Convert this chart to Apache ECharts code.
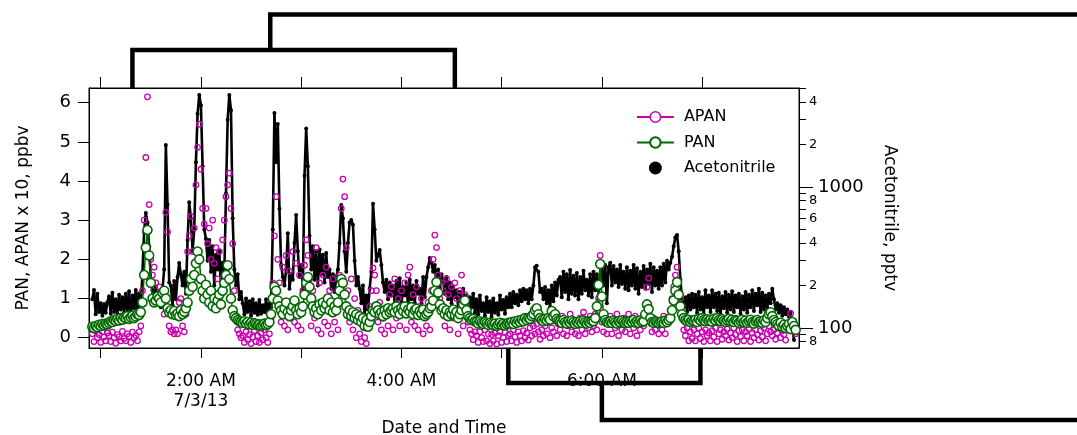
<!DOCTYPE html>
<html>
<head>
<meta charset="utf-8">
<script src="https://cdn.jsdelivr.net/npm/echarts@6/dist/echarts.min.js"></script>
<style>
  html, body { margin: 0; padding: 0; background: #fff; }
  #chart { width: 1077px; height: 435px; }
</style>
</head>
<body>
<div id="chart"></div>
<script>
// One reading per minute, minutes after midnight on 7/3/13, first reading at 0:55
const START_MIN = 55;
const DATE_LABEL = '7/3/13';

// Acetonitrile, pptv (right, log axis)
const acetonitrile = [
  160, 186, 125, 175, 130, 150, 122, 148, 128, 152,
  168, 126, 178, 130, 160, 124, 172, 135, 165, 128,
  175, 130, 182, 126, 170, 138, 186, 130, 176, 140,
  250, 480, 655, 560, 380, 220, 185, 150, 195, 160,
  175, 140, 190, 260, 1985, 750, 210, 200, 145, 215,
  160, 230, 289, 240, 200, 250, 175, 420, 780, 600,
  350, 500, 1500, 3300, 4500, 3800, 1400, 500, 430, 300,
  420, 250, 380, 200, 330, 260, 350, 190, 290, 240,
  900, 3000, 4500, 3500, 600, 260, 200, 240, 160, 180,
  150, 125, 162, 130, 155, 122, 160, 128, 150, 124,
  158, 126, 145, 130, 160, 125, 150, 140, 500, 3350,
  1500, 2800, 700, 280, 230, 200, 260, 470, 190, 240,
  220, 400, 634, 350, 230, 280, 190, 1200, 2600, 1400,
  450, 260, 380, 220, 350, 200, 360, 240, 330, 210,
  340, 230, 260, 190, 240, 180, 230, 260, 400, 745,
  600, 350, 250, 400, 560, 583, 540, 300, 200, 230,
  190, 150, 200, 125, 170, 135, 190, 250, 760, 500,
  300, 330, 357, 280, 210, 180, 220, 160, 210, 170,
  200, 150, 215, 160, 225, 145, 195, 170, 210, 140,
  220, 160, 200, 150, 215, 175, 190, 150, 230, 165,
  230, 270, 314, 290, 250, 280, 200, 260, 190, 240,
  220, 175, 230, 160, 210, 150, 195, 165, 185, 140,
  180, 135, 190, 150, 170, 130, 165, 140, 175, 128,
  160, 125, 170, 132, 150, 122, 165, 130, 155, 120,
  162, 128, 150, 124, 170, 135, 158, 126, 165, 140,
  175, 140, 180, 150, 172, 145, 185, 155, 190, 160,
  185, 150, 190, 160, 200, 270, 276, 250, 180, 190,
  160, 195, 150, 185, 140, 200, 155, 210, 170, 220,
  230, 165, 250, 180, 240, 160, 258, 175, 235, 170,
  245, 160, 230, 175, 255, 185, 220, 170, 240, 165,
  250, 185, 240, 170, 230, 265, 200, 280, 150, 270,
  290, 200, 275, 210, 260, 195, 280, 205, 250, 190,
  270, 185, 255, 200, 280, 190, 265, 175, 250, 195,
  275, 190, 260, 205, 285, 180, 270, 200, 255, 190,
  270, 200, 285, 210, 300, 260, 290, 320, 380, 440,
  457, 350, 220, 160, 140, 165, 130, 170, 135, 175,
  140, 172, 128, 180, 135, 165, 125, 185, 140, 170,
  130, 185, 140, 175, 132, 178, 126, 168, 138, 180,
  128, 172, 135, 182, 130, 170, 140, 175, 126, 168,
  135, 180, 128, 172, 140, 185, 132, 175, 145, 190,
  130, 178, 135, 170, 140, 175, 150, 190, 160, 135,
  150, 128, 145, 122, 140, 125, 135, 120, 130, 100,
  82, null
];

// PAN, ppbv (left axis)
const pan = [
  0.28, 0.25, 0.30, 0.27, 0.33, 0.30, 0.35, 0.32, 0.36, 0.34,
  0.38, 0.42, 0.40, 0.45, 0.43, 0.48, 0.44, 0.50, 0.46, 0.52,
  0.50, 0.55, 0.48, 0.52, 0.56, 0.50, 0.54, 0.60, 0.58, 0.65,
  0.90, 1.60, 2.30, 2.75, 2.10, 1.40, 1.00, 0.90, 0.95, 1.05,
  1.00, 0.90, 1.15, 1.20, 1.00, 0.75, 0.65, 0.70, 0.60, 0.68,
  0.58, 0.62, 0.55, 0.70, 0.60, 0.66, 0.75, 0.90, 1.20, 1.50,
  1.30, 1.60, 1.90, 2.20, 2.00, 1.50, 1.20, 1.00, 1.35, 1.10,
  0.90, 1.20, 0.80, 1.00, 0.75, 0.95, 1.10, 0.85, 1.20, 1.40,
  1.60, 1.85, 1.50, 1.00, 0.70, 0.55, 0.50, 0.45, 0.42, 0.40,
  0.38, 0.42, 0.36, 0.40, 0.34, 0.38, 0.33, 0.37, 0.35, 0.32,
  0.34, 0.30, 0.33, 0.36, 0.32, 0.35, 0.40, 0.60, 1.00, 1.30,
  1.20, 0.95, 0.80, 0.70, 0.60, 0.75, 0.90, 0.65, 0.55, 0.70,
  0.80, 0.95, 0.70, 0.60, 0.75, 0.65, 0.80, 1.10, 1.40, 1.55,
  1.30, 1.00, 0.80, 0.65, 0.75, 0.60, 0.85, 0.70, 0.90, 0.75,
  0.85, 1.00, 0.70, 0.90, 0.65, 0.80, 0.70, 0.90, 1.20, 1.50,
  1.40, 1.10, 0.80, 0.60, 0.70, 0.55, 0.65, 0.50, 0.60, 0.45,
  0.55, 0.40, 0.50, 0.30, 0.45, 0.28, 0.40, 0.55, 0.70, 0.65,
  0.80, 0.70, 0.60, 0.65, 0.55, 0.70, 0.60, 0.75, 0.65, 0.70,
  0.75, 0.65, 0.80, 0.70, 0.60, 0.75, 0.68, 0.80, 0.62, 0.72,
  0.66, 0.78, 0.60, 0.70, 0.74, 0.58, 0.68, 0.62, 0.72, 0.55,
  0.60, 0.65, 0.75, 0.80, 0.95, 1.20, 1.42, 1.15, 0.85, 0.70,
  0.75, 0.60, 0.70, 0.55, 0.65, 0.60, 0.72, 0.58, 0.66, 0.50,
  0.60, 0.70, 0.85, 0.95, 0.70, 0.55, 0.50, 0.45, 0.48, 0.42,
  0.40, 0.36, 0.42, 0.38, 0.35, 0.40, 0.37, 0.33, 0.38, 0.35,
  0.32, 0.36, 0.30, 0.34, 0.38, 0.33, 0.36, 0.31, 0.35, 0.38,
  0.36, 0.40, 0.35, 0.42, 0.38, 0.44, 0.40, 0.46, 0.42, 0.50,
  0.45, 0.50, 0.48, 0.55, 0.60, 0.70, 0.75, 0.60, 0.50, 0.45,
  0.42, 0.48, 0.44, 0.50, 0.46, 0.68, 0.55, 0.60, 0.48, 0.44,
  0.42, 0.38, 0.45, 0.40, 0.36, 0.42, 0.38, 0.44, 0.40, 0.35,
  0.40, 0.37, 0.42, 0.38, 0.44, 0.40, 0.36, 0.41, 0.38, 0.43,
  0.42, 0.50, 0.80, 1.35, 1.88, 1.05, 0.60, 0.45, 0.40, 0.38,
  0.42, 0.38, 0.44, 0.40, 0.36, 0.42, 0.39, 0.44, 0.40, 0.37,
  0.41, 0.38, 0.43, 0.40, 0.45, 0.39, 0.42, 0.38, 0.44, 0.40,
  0.42, 0.60, 0.85, 0.73, 0.50, 0.40, 0.38, 0.42, 0.40, 0.37,
  0.40, 0.42, 0.38, 0.44, 0.40, 0.45, 0.50, 0.70, 0.95, 1.20,
  1.42, 1.10, 0.80, 0.60, 0.50, 0.45, 0.42, 0.46, 0.40, 0.44,
  0.42, 0.46, 0.40, 0.48, 0.44, 0.50, 0.45, 0.42, 0.47, 0.43,
  0.46, 0.41, 0.48, 0.44, 0.50, 0.45, 0.42, 0.47, 0.43, 0.40,
  0.44, 0.48, 0.42, 0.46, 0.40, 0.45, 0.43, 0.38, 0.42, 0.46,
  0.40, 0.44, 0.38, 0.42, 0.46, 0.40, 0.36, 0.42, 0.45, 0.40,
  0.42, 0.38, 0.44, 0.40, 0.50, 0.60, 0.65, 0.55, 0.45, 0.40,
  0.35, 0.30, 0.38, 0.28, 0.33, 0.25, 0.30, 0.35, 0.22, 0.40,
  0.30, 0.20
];

// APAN x 10, ppbv (left axis)
const apanX10 = [
  0.10, -0.10, 0.18, 0.00, 0.08, -0.12, 0.15, 0.02, -0.08, 0.12,
  0.05, -0.10, 0.14, 0.00, -0.14, 0.08, 0.02, -0.08, 0.16, -0.02,
  -0.08, 0.10, 0.03, -0.12, 0.14, 0.00, 0.06, -0.08, 0.15, 0.30,
  1.20, 3.00, 4.60, 6.15, 3.40, 2.00, 1.60, 1.80, 1.40, 1.10,
  1.30, 0.90, 1.00, 0.60, 3.20, 2.70, 0.30, 0.15, 0.20, 0.10,
  0.20, 0.10, 0.90, 1.00, 0.30, 0.15, 0.60, 2.20, 2.60, 3.10,
  2.20, 2.80, 3.90, 4.86, 5.45, 4.30, 3.30, 2.90, 3.30, 2.40,
  2.80, 2.00, 3.00, 1.90, 2.30, 1.50, 2.20, 1.20, 2.50, 3.00,
  3.60, 3.90, 4.20, 3.30, 2.40, 1.20, 0.50, 0.20, 0.10, 0.00,
  0.05, -0.12, 0.15, -0.05, 0.08, -0.15, 0.02, 0.18, -0.10, 0.05,
  -0.12, 0.12, -0.05, 0.20, 0.00, -0.12, 0.10, 0.50, 1.40, 2.60,
  3.60, 2.00, 1.40, 0.40, 1.80, 0.30, 2.10, 0.20, 1.70, 0.50,
  2.20, 0.40, 1.90, 0.30, 1.60, 0.20, 1.20, 1.85, 2.50, 2.10,
  1.50, 0.30, 1.20, 0.50, 2.30, 0.20, 1.40, 0.10, 1.60, 0.40,
  1.80, 0.30, 1.20, 0.10, 1.50, 0.40, 0.90, 0.20, 1.60, 3.30,
  4.05, 3.60, 2.30, 1.20, 0.40, 1.50, 0.20, 1.00, 0.00, 0.70,
  0.10, -0.10, 0.50, 0.00, -0.15, 0.30, 0.80, 1.20, 1.78, 1.60,
  1.20, 0.40, 0.90, 0.20, 0.50, 0.10, 0.70, 0.30, 1.10, 1.30,
  0.20, 1.50, 0.50, 1.00, 0.30, 1.20, 0.60, 1.40, 0.20, 1.60,
  1.80, 0.40, 1.10, 0.30, 1.30, 0.20, 0.80, 1.00, 0.10, 0.60,
  0.30, 0.90, 0.20, 1.20, 2.00, 2.62, 2.30, 1.60, 1.00, 1.40,
  1.20, 0.30, 1.50, 1.10, 0.20, 1.30, 0.50, 1.40, 1.00, 0.10,
  1.20, 1.60, 0.30, 1.10, 0.80, 0.40, 0.20, 0.10, -0.05, 0.15,
  0.05, -0.12, 0.15, 0.00, -0.10, 0.20, -0.08, 0.10, -0.15, 0.08,
  -0.08, 0.12, -0.16, 0.05, 0.15, -0.12, 0.00, 0.14, -0.10, 0.06,
  0.10, -0.08, 0.20, 0.02, -0.12, 0.15, 0.05, -0.08, 0.18, 0.00,
  0.12, -0.06, 0.25, 0.05, 0.30, 0.10, 0.35, 0.15, -0.04, 0.20,
  0.05, 0.30, 0.10, 0.45, 0.00, 0.25, 0.15, 0.50, 0.05, 0.35,
  0.20, 0.55, 0.10, 0.40, 0.05, 0.30, 0.60, 0.15, 0.45, 0.10,
  0.35, 0.05, 0.50, 0.20, 0.65, 0.10, 0.40, 0.25, 0.55, 0.15,
  0.30, 0.60, 0.20, 1.00, 2.10, 0.40, 0.15, 0.50, 0.10, 0.35,
  0.55, 0.10, 0.40, 0.25, 0.60, 0.05, 0.45, 0.20, 0.50, 0.15,
  0.35, 0.60, 0.10, 0.45, 0.25, 0.55, 0.05, 0.40, 0.20, 0.50,
  0.30, 0.60, 1.29, 1.52, 0.40, 0.15, 0.50, 0.20, 0.45, 0.10,
  0.40, 0.20, 0.55, 0.10, 0.35, 0.50, 0.70, 1.00, 1.30, 1.60,
  1.80, 1.40, 1.00, 0.50, 0.20, 0.05, 0.25, -0.08, 0.15, -0.02,
  0.20, -0.08, 0.10, 0.25, -0.02, 0.15, -0.10, 0.20, 0.05, 0.12,
  -0.08, 0.18, 0.02, 0.25, -0.10, 0.10, 0.20, -0.04, 0.15, 0.05,
  0.22, -0.06, 0.12, 0.00, 0.25, 0.08, -0.10, 0.18, 0.03, 0.20,
  -0.08, 0.15, 0.05, 0.22, -0.10, 0.12, 0.00, 0.20, 0.08, -0.06,
  0.18, 0.02, 0.25, -0.08, 0.10, 0.30, 0.15, 0.05, 0.20, -0.04,
  0.12, 0.25, 0.00, 0.18, 0.08, -0.06, 0.20, 0.35, 0.62, 0.30,
  0.20, 0.10
];

// Axis ticks and labels
const hourTicks = [60, 120, 180, 240, 300, 360, 420];
const hourLabels = [120, 240, 360];
const ppbvTicks = [0, 1, 2, 3, 4, 5, 6];
const pptvMajor = [100, 1000];
const pptvTicks = [80, 90, 100, 200, 300, 400, 500, 600, 700, 800, 900, 1000, 2000, 3000, 4000, 5000];
const pptvLabels = [80, 100, 200, 400, 600, 800, 1000, 2000, 4000];

// Axis ranges
const TIME_RANGE = [53, 478];
const PPBV_RANGE = [-0.263, 6.375];
const PPTV_RANGE = [72.1, 5035];

// Bracket annotations: time spans (minutes) and stem positions
const upperBracket = { span: [79, 272], stem: 161.5 };
const lowerBracket = { span: [304, 419], stem: 360 };

const FONT = 'DejaVu Sans';
const MAGENTA = '#cc00b0';
const GREEN = '#006a00';

const toPoints = arr => arr
  .map((v, i) => [START_MIN + i, v])
  .filter(p => p[1] !== null);

function clockLabel(m) {
  const h = Math.floor(m / 60), mm = m % 60;
  const h12 = h % 12 === 0 ? 12 : h % 12;
  let s = h12 + ':' + String(mm).padStart(2, '0') + (h < 12 ? ' AM' : ' PM');
  if (m === hourLabels[0]) s += '\n' + DATE_LABEL;
  return s;
}

const log10 = Math.log10;
const logRange = PPTV_RANGE.map(log10);

const chart = echarts.init(document.getElementById('chart'), null, { renderer: 'canvas' });

const blackLine = { color: '#000', width: 1 };

chart.setOption({
  animation: false,
  textStyle: { fontFamily: FONT, color: '#000' },
  grid: {
    left: 89, right: 278, top: 88, bottom: 87,
    outerBoundsMode: 'none', containLabel: false,
    show: true, borderColor: '#000', borderWidth: 1, backgroundColor: '#fff'
  },
  legend: {
    orient: 'vertical',
    left: 636, top: 109, padding: 0,
    itemWidth: 37, itemHeight: 13, itemGap: 9.5,
    selectedMode: false,
    textStyle: { fontFamily: FONT, fontSize: 16, color: '#000', padding: [0, 0, 0, 5] },
    data: [
      { name: 'APAN', lineStyle: { width: 1.8 },
        itemStyle: { color: '#fff', borderColor: MAGENTA, borderWidth: 1.5 } },
      { name: 'PAN', lineStyle: { width: 1.8 } },
      { name: 'Acetonitrile', icon: 'circle', itemStyle: { color: '#000' } }
    ]
  },
  xAxis: [
    {
      type: 'value', position: 'bottom',
      min: TIME_RANGE[0], max: TIME_RANGE[1],
      axisLine: { show: true, onZero: false, lineStyle: blackLine },
      axisTick: { show: true, customValues: hourTicks, length: 10, lineStyle: blackLine },
      axisLabel: {
        customValues: hourLabels, formatter: clockLabel,
        fontFamily: FONT, fontSize: 17, color: '#000', lineHeight: 20, margin: 24
      },
      splitLine: { show: false },
      name: 'Date and Time', nameLocation: 'middle', nameGap: 72, nameMoveOverlap: false,
      nameTextStyle: { fontFamily: FONT, fontSize: 17, color: '#000' }
    },
    {
      type: 'value', position: 'top',
      min: TIME_RANGE[0], max: TIME_RANGE[1],
      axisLine: { show: true, onZero: false, lineStyle: blackLine },
      axisTick: { show: true, customValues: hourTicks, length: 11, lineStyle: blackLine },
      axisLabel: { show: false },
      splitLine: { show: false }
    }
  ],
  yAxis: [
    {
      type: 'value', position: 'left',
      min: PPBV_RANGE[0], max: PPBV_RANGE[1],
      axisLine: { show: true, onZero: false, lineStyle: blackLine },
      axisTick: { show: true, customValues: ppbvTicks, length: 11, lineStyle: blackLine },
      axisLabel: { customValues: ppbvTicks, fontFamily: FONT, fontSize: 18, color: '#000', margin: 18 },
      splitLine: { show: false },
      name: 'PAN, APAN x 10, ppbv', nameLocation: 'middle', nameRotate: 90, nameGap: 57,
      nameMoveOverlap: false,
      nameTextStyle: { fontFamily: FONT, fontSize: 17, color: '#000' }
    },
    {
      // data axis for acetonitrile (log scale)
      type: 'log', logBase: 10, position: 'right',
      min: PPTV_RANGE[0], max: PPTV_RANGE[1],
      show: false
    },
    {
      // tick marks and labels of the log axis, laid out in decades
      type: 'value', position: 'right',
      min: logRange[0], max: logRange[1],
      axisLine: { show: true, onZero: false, lineStyle: blackLine },
      axisTick: { show: true, customValues: pptvTicks.map(log10), length: 7, lineStyle: blackLine },
      axisLabel: {
        customValues: pptvLabels.map(log10),
        margin: 10,
        formatter: v => {
          const val = Math.round(Math.pow(10, v));
          return pptvMajor.includes(val) ? '{big|' + val + '}' : '{small|' + String(val)[0] + '}';
        },
        rich: {
          big: { fontFamily: FONT, fontSize: 18, color: '#000', padding: [0, 0, 0, 9] },
          small: { fontFamily: FONT, fontSize: 13, color: '#000' }
        }
      },
      splitLine: { show: false },
      name: 'Acetonitrile, pptv', nameLocation: 'middle', nameRotate: -90, nameGap: 82,
      nameMoveOverlap: false,
      nameTextStyle: { fontFamily: FONT, fontSize: 17, color: '#000' }
    },
    {
      // longer ticks at the decades
      type: 'value', position: 'right',
      min: logRange[0], max: logRange[1],
      axisLine: { show: false, onZero: false },
      axisTick: { show: true, customValues: pptvMajor.map(log10), length: 14, lineStyle: blackLine },
      axisLabel: { show: false },
      splitLine: { show: false }
    }
  ],
  series: [
    {
      name: 'Acetonitrile', type: 'line', xAxisIndex: 0, yAxisIndex: 1,
      data: toPoints(acetonitrile),
      symbol: 'circle', symbolSize: 4, showSymbol: true, showAllSymbol: true,
      itemStyle: { color: '#000' },
      lineStyle: { color: '#000', width: 2.6 },
      silent: true, z: 2
    },
    {
      name: 'APAN', type: 'line', xAxisIndex: 0, yAxisIndex: 0,
      data: toPoints(apanX10),
      symbol: 'circle', symbolSize: 5.5, showSymbol: true, showAllSymbol: true,
      itemStyle: { color: 'rgba(255,255,255,0)', borderColor: MAGENTA, borderWidth: 1.3 },
      lineStyle: { color: MAGENTA, width: 0 },
      silent: true, z: 3
    },
    {
      name: 'PAN', type: 'line', xAxisIndex: 0, yAxisIndex: 0,
      data: toPoints(pan),
      symbol: 'circle', symbolSize: 9, showSymbol: true, showAllSymbol: true,
      itemStyle: { color: '#fff', borderColor: GREEN, borderWidth: 1.6 },
      lineStyle: { color: GREEN, width: 1.6 },
      silent: true, z: 4
    }
  ]
});

// Bracket annotations above and below the plot, placed from their time spans
(function drawBrackets() {
  const px = t => chart.convertToPixel({ xAxisIndex: 0 }, t);
  const W = chart.getWidth();
  const plotTop = 88, plotBottom = 348;
  const style = { stroke: '#000', lineWidth: 4.5, fill: null, lineJoin: 'miter', lineCap: 'butt' };
  const u = upperBracket, l = lowerBracket;
  const upArm = 50, upTop = 14.5, lowArm = 383, lowBase = 420;
  chart.setOption({
    graphic: [
      { type: 'polyline', silent: true, z: 100, style,
        shape: { points: [[px(u.span[0]), plotTop], [px(u.span[0]), upArm], [px(u.span[1]), upArm], [px(u.span[1]), plotTop]] } },
      { type: 'polyline', silent: true, z: 100, style,
        shape: { points: [[px(u.stem), upArm], [px(u.stem), upTop], [W, upTop]] } },
      { type: 'polyline', silent: true, z: 100, style,
        shape: { points: [[px(l.span[0]), plotBottom], [px(l.span[0]), lowArm], [px(l.span[1]), lowArm], [px(l.span[1]), plotBottom]] } },
      { type: 'polyline', silent: true, z: 100, style,
        shape: { points: [[px(l.stem), lowArm], [px(l.stem), lowBase], [W, lowBase]] } }
    ]
  });
})();
</script>
</body>
</html>
